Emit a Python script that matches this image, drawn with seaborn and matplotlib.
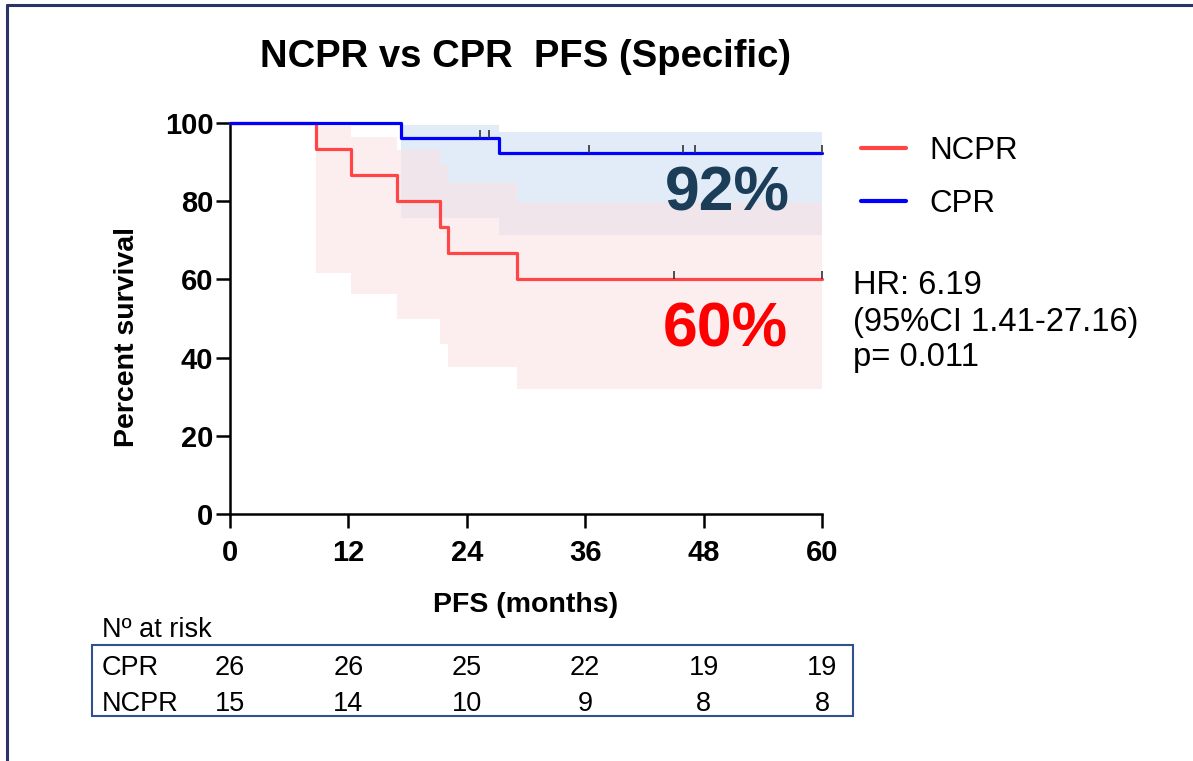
import numpy as np
import matplotlib.pyplot as plt
import seaborn as sns
from matplotlib.lines import Line2D
from matplotlib.patches import Rectangle
from matplotlib.transforms import blended_transform_factory

# ── Data ──────────────────────────────────────────────────────────────────────
ncpr_time  = [0, 8.7, 12.3, 16.9, 21.3, 22.1, 29.1, 60]
ncpr_surv  = [100, 93.3, 86.7, 80.0, 73.3, 66.7, 60.0, 60.0]
ncpr_lower = [100, 61.6, 56.3, 49.9, 43.5, 37.6, 31.9, 31.9]
ncpr_upper = [100, 99.2, 96.5, 93.1, 89.3, 84.6, 79.9, 79.9]
ncpr_censor = [45.0, 60.0]

cpr_time  = [0, 17.3, 27.3, 60]
cpr_surv  = [100, 96.2, 92.3, 92.3]
cpr_lower = [100, 75.7, 71.4, 71.4]
cpr_upper = [100, 99.5, 97.8, 97.8]
cpr_censor = [25.3, 26.2, 36.4, 45.9, 47.1, 60.0]

risk_times = [0, 12, 24, 36, 48, 60]
risk_cpr   = [26, 26, 25, 22, 19, 19]
risk_ncpr  = [15, 14, 10, 9, 8, 8]

x_ticks = [0, 12, 24, 36, 48, 60]
y_ticks = [0, 20, 40, 60, 80, 100]

RED   = '#ff4545'
BLUE  = '#0000ff'
NAVY  = '#2f528f'

# ── Style ─────────────────────────────────────────────────────────────────────
sns.set_style('ticks')
plt.rcParams['font.family'] = ['Liberation Sans', 'DejaVu Sans']
plt.rcParams['text.color'] = 'black'
plt.rcParams['axes.labelcolor'] = 'black'
plt.rcParams['xtick.color'] = 'black'
plt.rcParams['ytick.color'] = 'black'

fig = plt.figure(figsize=(11.93, 7.61), dpi=100)
ax = fig.add_axes([230/1193, 1 - 514/761, 592/1193, 391/761])


def surv_at(times, surv, t):
    idx = np.searchsorted(times, t, side='right') - 1
    return np.asarray(surv)[idx]


# confidence bands
ax.fill_between(cpr_time, cpr_lower, cpr_upper, step='post',
                color='#e1ecf8', linewidth=0, zorder=1)
ax.fill_between(ncpr_time, ncpr_lower, ncpr_upper, step='post',
                color='#fbe0e0', alpha=0.55, linewidth=0, zorder=2)

# KM curves
sns.lineplot(x=ncpr_time, y=ncpr_surv, drawstyle='steps-post', estimator=None,
             color=RED, linewidth=2.3, ax=ax, zorder=3, clip_on=False)
sns.lineplot(x=cpr_time, y=cpr_surv, drawstyle='steps-post', estimator=None,
             color=BLUE, linewidth=2.3, ax=ax, zorder=4, clip_on=False)

# censor marks
ax.plot(cpr_censor, surv_at(cpr_time, cpr_surv, cpr_censor), linestyle='none',
        marker=2, markersize=6, mew=1.2, color='#333333', zorder=5, clip_on=False)
ax.plot(ncpr_censor, surv_at(ncpr_time, ncpr_surv, ncpr_censor), linestyle='none',
        marker=2, markersize=6, mew=1.2, color='#333333', zorder=5, clip_on=False)

# axes
ax.set_xlim(0, 60)
ax.set_ylim(0, 100)
ax.set_xticks(x_ticks)
ax.set_yticks(y_ticks)
for lab in ax.get_xticklabels() + ax.get_yticklabels():
    lab.set_fontweight('bold')
ax.tick_params(axis='x', length=10, width=1.8, labelsize=21, pad=8)
ax.tick_params(axis='y', length=10, width=1.8, labelsize=21, pad=2)
sns.despine(ax=ax)
for s in ['left', 'bottom']:
    ax.spines[s].set_linewidth(1.8)
    ax.spines[s].set_color('black')

ax.set_xlabel('PFS (months)', fontsize=20.5, fontweight='bold')
ax.set_ylabel('Percent survival', fontsize=20.5, fontweight='bold')
ax.xaxis.set_label_coords(0.5, -0.2)
ax.yaxis.set_label_coords(-0.152, 0.453)

fig.text(526/1193, 1 - 57/761, 'NCPR vs CPR  PFS (Specific)', fontsize=27.5,
         fontweight='bold', ha='center', va='center')

# big annotations
ax.text(727/1193, 1 - 194/761, '92%', transform=fig.transFigure, fontsize=45,
        fontweight='bold', color='#1c3d57', ha='center', va='center')
ax.text(725/1193, 1 - 330/761, '60%', transform=fig.transFigure, fontsize=45,
        fontweight='bold', color='#ff0000', ha='center', va='center')

# legend
handles = [Line2D([], [], color=RED, linewidth=3),
           Line2D([], [], color=BLUE, linewidth=3)]
fig.legend(handles, ['NCPR', 'CPR'], loc='upper left',
           bbox_to_anchor=(861/1193, 1 - 136/761), frameon=False, fontsize=22.5,
           handlelength=1.45, handletextpad=0.75, labelspacing=0.72,
           borderpad=0, borderaxespad=0)

# HR text
fig.text(853/1193, 1 - 286/761, 'HR: 6.19', fontsize=23.5, va='center')
fig.text(853/1193, 1 - 323/761, '(95%CI 1.41-27.16)', fontsize=23.5, va='center')
fig.text(853/1193, 1 - 357/761, 'p= 0.011', fontsize=23.5, va='center')

# number at risk table
fig.text(102/1193, 1 - 630/761, 'Nº at risk', fontsize=19.5, va='center')
fig.add_artist(Rectangle((92/1193, 1 - 716/761), 761/1193, 71/761,
                         transform=fig.transFigure, fill=False,
                         edgecolor=NAVY, linewidth=1.5))
fig.text(102/1193, 1 - 668/761, 'CPR', fontsize=19.5, va='center')
fig.text(102/1193, 1 - 704/761, 'NCPR', fontsize=19.5, va='center')
trans = blended_transform_factory(ax.transData, fig.transFigure)
for t, a, b in zip(risk_times, risk_cpr, risk_ncpr):
    fig.text(t, 1 - 668/761, str(a), fontsize=19.5, ha='center', va='center',
             transform=trans)
    fig.text(t, 1 - 704/761, str(b), fontsize=19.5, ha='center', va='center',
             transform=trans)

# slide frame (top and left edges)
fig.add_artist(Line2D([7/1193, 1], [1 - 5/761, 1 - 5/761],
                      transform=fig.transFigure, color='#2b3466', linewidth=2.2))
fig.add_artist(Line2D([7/1193, 7/1193], [0, 1 - 5/761],
                      transform=fig.transFigure, color='#2b3466', linewidth=2.2))

fig.savefig('out.png', dpi=100)
